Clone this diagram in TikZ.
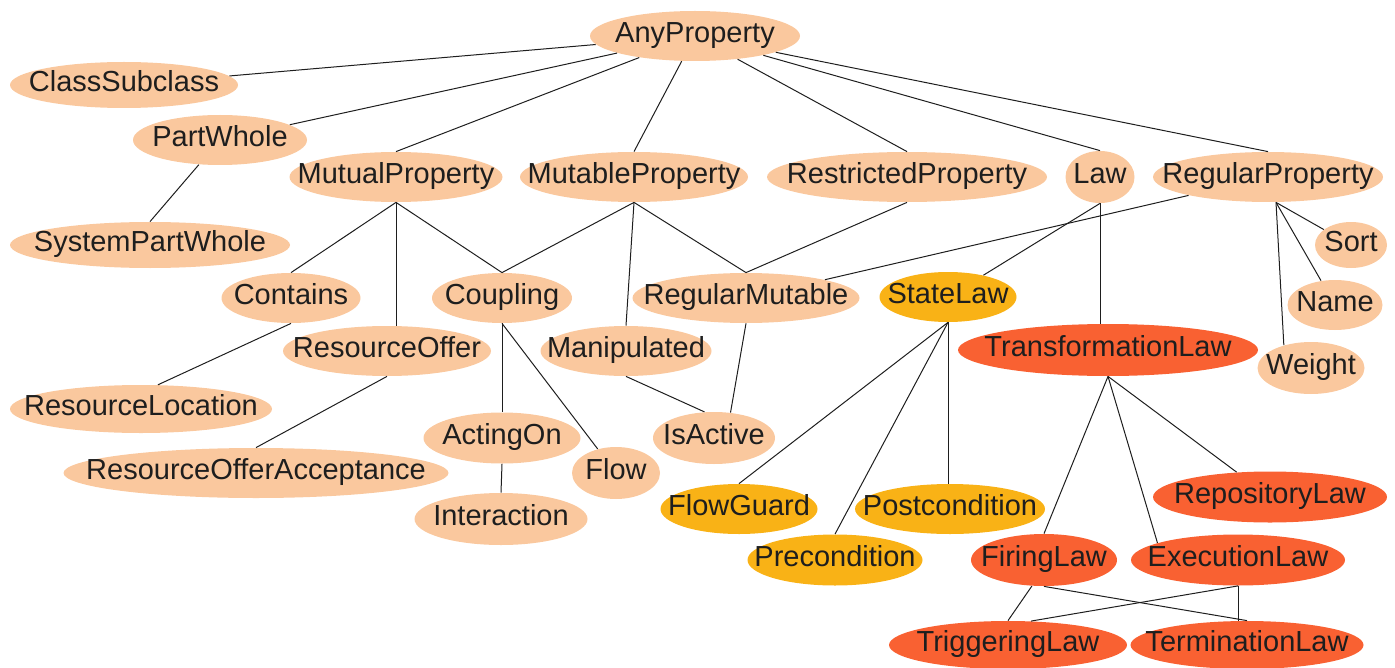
\documentclass[tikz,border=0pt]{standalone}
\usepackage{fontspec}
\setmainfont{Liberation Sans}
\usetikzlibrary{shapes.geometric}
\definecolor{peachColor}{RGB}{250,200,158}
\definecolor{stateColor}{RGB}{249,178,22}
\definecolor{transColor}{RGB}{249,97,50}
\definecolor{drawColor}{RGB}{30,30,30}
\newcommand{\lbl}[1]{\makebox[0pt]{#1}}
\begin{document}
\begin{tikzpicture}[x=0.5pt,y=-0.5pt,
  prop/.style={ellipse,fill=peachColor,inner sep=0pt,minimum height=25pt,
    text height=1.55ex,text depth=.3ex,text=drawColor,
    font=\fontsize{14.5}{17}\selectfont},
  statelaw/.style={prop,fill=stateColor},
  translaw/.style={prop,fill=transColor},
  wd/.style={minimum width=#1*0.5pt},
  ht/.style={minimum height=#1*0.5pt},
  link/.style={draw=drawColor,line width=0.5pt}]
\useasboundingbox (0,0) rectangle (1395,668);

\node[prop,wd=210] (any) at (695,36) {\lbl{AnyProperty}};
\node[prop,wd=228,ht=46] (cls) at (124,85) {\lbl{ClassSubclass}};
\node[prop,wd=174] (pw) at (220,140) {\lbl{PartWhole}};
\node[prop,wd=280,ht=46] (spw) at (150,245) {\lbl{SystemPartWhole}};
\node[prop,wd=213] (mutual) at (396,177) {\lbl{MutualProperty}};
\node[prop,wd=228] (mutable) at (634,177) {\lbl{MutableProperty}};
\node[prop,wd=280] (restr) at (907,177) {\lbl{RestrictedProperty}};
\node[prop,wd=69,ht=52] (law) at (1100,177) {\lbl{Law}};
\node[prop,wd=230] (regular) at (1268,177) {\lbl{RegularProperty}};
\node[prop,wd=72,ht=46] (sort) at (1351,245) {\lbl{Sort}};
\node[prop,wd=95] (name) at (1335,305) {\lbl{Name}};
\node[prop,wd=107,ht=52] (weight) at (1311,368) {\lbl{Weight}};
\node[prop,wd=139] (contains) at (291,298) {\lbl{Contains}};
\node[prop,wd=140] (coupling) at (502,298) {\lbl{Coupling}};
\node[prop,wd=227] (regmut) at (746,298) {\lbl{RegularMutable}};
\node[statelaw,wd=137] (state) at (948,297) {\lbl{StateLaw}};
\node[prop,wd=208] (resoffer) at (387,351) {\lbl{ResourceOffer}};
\node[prop,wd=171] (manip) at (626,351) {\lbl{Manipulated}};
\node[translaw,wd=300,ht=52] (trans) at (1108,350) {\lbl{TransformationLaw}};
\node[prop,wd=262,ht=48] (resloc) at (141,409) {\lbl{ResourceLocation}};
\node[prop,wd=157,ht=51] (acting) at (502,438) {\lbl{ActingOn}};
\node[prop,wd=122,ht=52] (isactive) at (714,438) {\lbl{IsActive}};
\node[prop,wd=88,ht=52] (flow) at (616,473) {\lbl{Flow}};
\node[prop,wd=385] (roa) at (256,473) {\lbl{ResourceOfferAcceptance}};
\node[prop,wd=173,ht=52] (inter) at (501,519) {\lbl{Interaction}};
\node[statelaw,wd=157] (guard) at (739,509) {\lbl{FlowGuard}};
\node[statelaw,wd=190] (post) at (950,509) {\lbl{Postcondition}};
\node[statelaw,wd=175,ht=51] (pre) at (835,560) {\lbl{Precondition}};
\node[translaw,wd=234,ht=51] (repo) at (1270,497) {\lbl{RepositoryLaw}};
\node[translaw,wd=146,ht=52] (firing) at (1044,560) {\lbl{FiringLaw}};
\node[translaw,wd=214,ht=51] (exec) at (1238,560) {\lbl{ExecutionLaw}};
\node[translaw,wd=238,ht=48] (trig) at (1008,645) {\lbl{TriggeringLaw}};
\node[translaw,wd=233,ht=48] (term) at (1247,645) {\lbl{TerminationLaw}};

\draw[link] (any) -- (cls);
\draw[link] (any) -- (pw);
\draw[link] (any) -- (mutual.north);
\draw[link] (any) -- (mutable.north);
\draw[link] (any) -- (restr.north);
\draw[link] (any) -- (law.north);
\draw[link] (any) -- (regular.north);
\draw[link] (pw) -- (spw.north);
\draw[link] (mutual.south) -- (contains.north);
\draw[link] (mutual.south) -- (mutual.south |- resoffer.north);
\draw[link] (mutual.south) -- (coupling.north);
\draw[link] (mutable.south) -- (coupling.north);
\draw[link] (mutable.south) -- (manip.north);
\draw[link] (mutable.south) -- (regmut.north);
\draw[link] (restr.south) -- (regmut.north);
\draw[link] (regular) -- (regmut);
\draw[link] (law.south) -- (state);
\draw[link] (law.south) -- (law.south |- trans.north);
\draw[link] ([xshift=4pt]regular.south) -- (sort);
\draw[link] ([xshift=4pt]regular.south) -- (name);
\draw[link] ([xshift=4pt]regular.south) -- (weight.140);
\draw[link] (contains.south) -- (resloc.55);
\draw[link] (resoffer.south) -- (roa.north);
\draw[link] (coupling.south) -- (acting.north);
\draw[link] (coupling.south) -- (flow);
\draw[link] (acting.south) -- (inter.north);
\draw[link] (manip.south) -- (isactive.110);
\draw[link] (regmut.south) -- (isactive.57);
\draw[link] (state.south) -- (guard.north);
\draw[link] (state.south) -- (pre.north);
\draw[link] (state.south) -- (state.south |- post.north);
\draw[link] (trans.south) -- (firing.north);
\draw[link] (trans.south) -- (exec.168);
\draw[link] (trans.south) -- (repo);
\draw[link] (firing.245) -- (trig.north);
\draw[link] (firing.south) -- (term.north);
\draw[link] (exec.south) -- (trig.46);
\draw[link] (exec.south) -- (exec.south |- term.north);
\end{tikzpicture}
\end{document}
